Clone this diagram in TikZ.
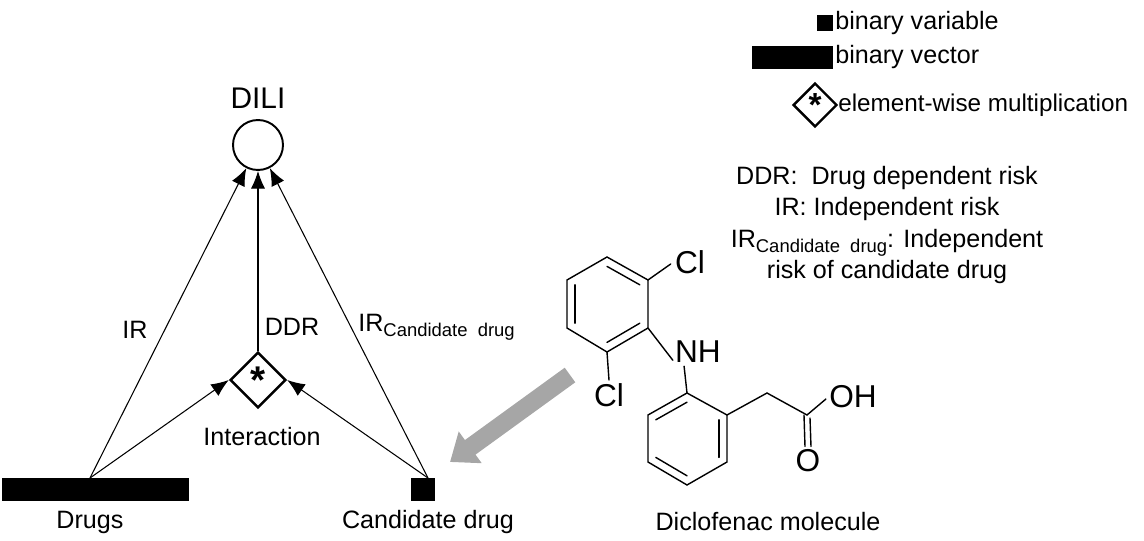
\documentclass[tikz,border=0pt]{standalone}
\usepackage{fontspec}
\setmainfont{Liberation Sans}
\usetikzlibrary{calc,arrows.meta,shapes.geometric}

\begin{document}
\begin{tikzpicture}[x=0.02cm,y=-0.02cm,
    lbl/.style={font=\fontsize{14.3}{16}\selectfont,inner sep=0pt},
    atom/.style={font=\fontsize{18}{19}\selectfont,inner sep=0pt},
    bar/.style={fill=black,draw=black,inner sep=0pt},
    mult/.style={draw=black,line width=1.4pt,diamond,inner sep=0pt,minimum size=1.12cm,font=\fontsize{22}{22}\selectfont\bfseries},
    link/.style={-{Latex[length=10pt,width=8pt]},line width=.6pt},
    bond/.style={line width=.8pt,line cap=round}]
  \useasboundingbox (0,0) rectangle (1144,541);

  %%%% Network part %%%%
  \node[lbl,font=\fontsize{17}{18}\selectfont] (dililbl) at (258,98) {DILI};
  \node[draw=black,line width=1.1pt,circle,minimum size=1cm,inner sep=0pt] (dili) at (258,145) {};
  \node[mult] (inter) at (258,380) {\raisebox{-.6ex}{*}};
  \node[bar,minimum width=3.72cm,minimum height=.44cm] (drugs) at (95,489) {};
  \node[bar,minimum width=.46cm,minimum height=.44cm] (cand) at (423,489) {};
  \coordinate (drugtop) at (90,478);
  \coordinate (candtop) at (428,478);

  %% Arrows
  \draw[link] (drugtop) -- (dili);
  \draw[link] (drugtop) -- (inter.west);
  \draw[link] (candtop) -- (dili);
  \draw[link] (candtop) -- (inter.east);
  \draw[link] (inter.north) -- (dili.south);

  %% Labels
  \node[lbl] (irlbl) at (135,330) {IR};
  \node[lbl] (ddrlbl) at (292,327) {DDR};
  \node[lbl,anchor=west] (irclbl) at (358,327) {IR{\fontsize{10.5}{11}\selectfont\raisebox{-.5ex}{Candidate\ \ drug}}};
  \node[lbl] (interlbl) at (262,437) {Interaction};
  \node[lbl] (drugslbl) at (90,522) {Drugs};
  \node[lbl] (candlbl) at (428,522) {Candidate drug};

  %% Grey arrow
  \coordinate (gfrom) at (570,375);
  \coordinate (gto) at (450,462);
  \draw[black!35,line width=.36cm,-{Triangle[length=.5cm,width=.75cm]}] (gfrom) -- (gto);

  %%%% Legend %%%%
  \node[bar,minimum size=.3cm] (lvar) at (825,23) {};
  \node[lbl,anchor=west] (lvartxt) at (835,23) {binary variable};
  \node[bar,minimum width=1.6cm,minimum height=.44cm] (lvec) at (792,57) {};
  \node[lbl,anchor=west] (lvectxt) at (835,57) {binary vector};
  \node[mult,minimum size=.88cm,font=\fontsize{19}{19}\selectfont\bfseries] (lmult) at (815,105) {\raisebox{-.6ex}{*}};
  \node[lbl,anchor=west,font=\fontsize{13.8}{15}\selectfont] (lmulttxt) at (838,105) {element-wise multiplication};
  \node[lbl,align=center] (defs) at (887,225) {DDR:\ \ Drug dependent risk\\[2pt] IR: Independent risk\\[2pt]
    IR{\fontsize{10.5}{11}\selectfont\raisebox{-.5ex}{Candidate\ \ drug}}: Independent\\[2pt] risk of candidate drug};

  %%%% Molecule %%%%
  \coordinate (a1) at (607,257); \coordinate (a2) at (648,280); \coordinate (a3) at (648,328);
  \coordinate (a4) at (607,352); \coordinate (a5) at (567,328); \coordinate (a6) at (567,280);
  \coordinate (ac) at (607,304);
  \coordinate (b1) at (687,393); \coordinate (b2) at (727,415); \coordinate (b3) at (727,462);
  \coordinate (b4) at (687,485); \coordinate (b5) at (648,462); \coordinate (b6) at (648,415);
  \coordinate (bc) at (687,439);
  \draw[bond] (a1) -- (a2) -- (a3) -- (a4) -- (a5) -- (a6) -- cycle;
  \draw[bond] (b1) -- (b2) -- (b3) -- (b4) -- (b5) -- (b6) -- cycle;
  %% double bonds
  \foreach \p/\q in {a1/a2,a3/a4,a5/a6}{
    \draw[bond] ($(\p)!.2!(ac)$) -- ($(\q)!.2!(ac)$);
  }
  \foreach \p/\q in {b1/b6,b2/b3,b4/b5}{
    \draw[bond] ($(\p)!.2!(bc)$) -- ($(\q)!.2!(bc)$);
  }
  \node[atom] (cl1) at (690,262) {Cl};
  \node[atom] (cl2) at (609,395) {Cl};
  \node[atom] (nh) at (698,352) {NH};
  \node[atom] (oh) at (853,397) {OH};
  \node[atom] (ox) at (808,461) {O};
  \coordinate (ch2) at (767,393);
  \coordinate (cc) at (807,415);
  \draw[bond] (a2) -- ($(cl1.west)+(-4,2)$);
  \draw[bond] (a4) -- ($(cl2.north)+(0,-3)$);
  \draw[bond] (a3) -- ($(nh.south west)+(-2,-3)$);
  \draw[bond] ($(nh.south west)!.4!(nh.south)+(0,3)$) -- (b1);
  \draw[bond] (b2) -- (ch2) -- (cc) -- ($(oh.west)+(-3,2)$);
  \draw[bond] ($(cc)+(-3,0)$) -- ($(ox.north)+(-3,-3)$);
  \draw[bond] ($(cc)+(3,3)$) -- ($(ox.north)+(3,-3)$);
  \node[lbl] (mollbl) at (768,522) {Diclofenac molecule};
\end{tikzpicture}
\end{document}
